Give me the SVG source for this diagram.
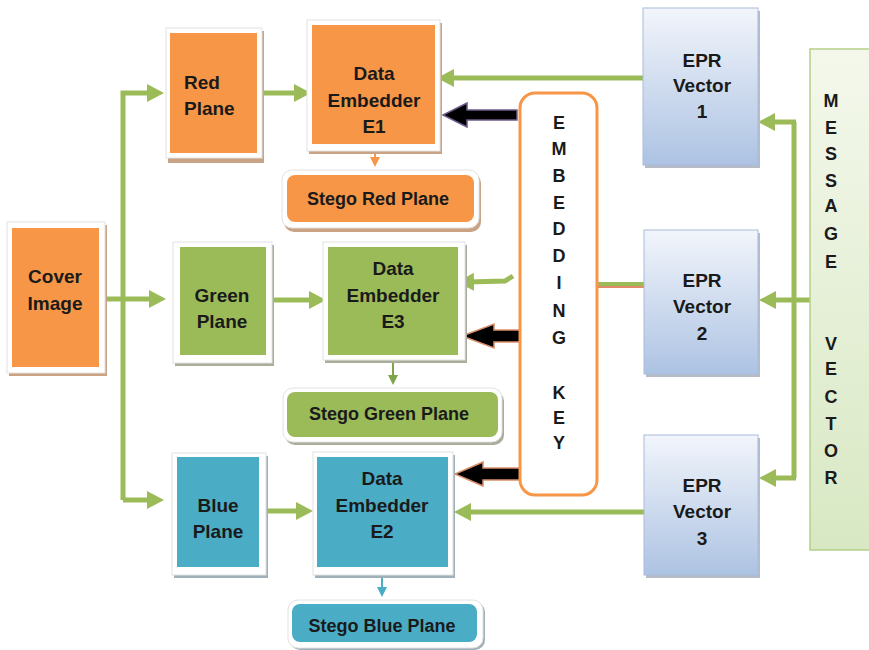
<svg xmlns="http://www.w3.org/2000/svg" width="869" height="650" viewBox="0 0 869 650">
<style>
text{font-family:"Liberation Sans",Arial,sans-serif;font-weight:bold;fill:#1a1a1a;text-anchor:middle;font-size:19px}
.st{font-size:18px}
.lt{font-size:18px}
.frame{fill:#ffffff;stroke:#e2e2e2;stroke-width:1}
.shO{fill:#c9a383}
.shG{fill:#a9ae9a}
.shB{fill:#9fb0b8}
.or{fill:#f79646}
.gr{fill:#9bbb59}
.bl{fill:#4bacc6}
.epr{fill:url(#eprGrad);stroke:#a9bcd9;stroke-width:1}
.conn{fill:none;stroke:#9bbb59;stroke-width:5}
.blk{fill:#000000;stroke-width:1.5}
</style>
<defs>
<linearGradient id="eprGrad" x1="0" y1="0" x2="0" y2="1">
<stop offset="0" stop-color="#f2f5fb"/>
<stop offset="1" stop-color="#adc3e3"/>
</linearGradient>
<linearGradient id="msgGrad" x1="0" y1="0" x2="0" y2="1">
<stop offset="0" stop-color="#f4f8ec"/>
<stop offset="1" stop-color="#d8e8c3"/>
</linearGradient>
<marker id="ga" markerUnits="userSpaceOnUse" markerWidth="17" markerHeight="18" refX="6" refY="9" orient="auto">
<path d="M0,0 L17,9 L0,18 z" fill="#9bbb59"/>
</marker>
<marker id="gs" markerUnits="userSpaceOnUse" markerWidth="10" markerHeight="10" refX="3" refY="5" orient="auto">
<path d="M0,0 L10,5 L0,10 z" fill="#7fa548"/>
</marker>
<marker id="os" markerUnits="userSpaceOnUse" markerWidth="10" markerHeight="10" refX="3" refY="5" orient="auto">
<path d="M0,0 L10,5 L0,10 z" fill="#f79646"/>
</marker>
<marker id="bs" markerUnits="userSpaceOnUse" markerWidth="10" markerHeight="10" refX="3" refY="5" orient="auto">
<path d="M0,0 L10,5 L0,10 z" fill="#4bacc6"/>
</marker>
</defs>
<rect width="869" height="650" fill="#ffffff"/>

<g id="connectors">
<path class="conn" d="M123,500 L123,93 L153,93" marker-end="url(#ga)"/>
<path class="conn" d="M105,299 L155,299" marker-end="url(#ga)"/>
<path class="conn" d="M123,500 L153,500" marker-end="url(#ga)"/>
<path class="conn" d="M263,93 L300,93" marker-end="url(#ga)"/>
<path class="conn" d="M272,300 L315,300" marker-end="url(#ga)"/>
<path class="conn" d="M266,511 L302,511" marker-end="url(#ga)"/>
<path class="conn" d="M643,78 L448,78" marker-end="url(#ga)"/>
<path class="conn" d="M513,276 L505,281 L468,282" marker-end="url(#ga)"/>
<path class="conn" d="M644,512 L465,512" marker-end="url(#ga)"/>
<line x1="597" y1="287" x2="644" y2="287" stroke="#e08a6a" stroke-width="2"/>
<line x1="597" y1="284" x2="644" y2="284" stroke="#9bbb59" stroke-width="4"/>
<path class="conn" d="M810,300 L794,300"/>
<path class="conn" d="M794,122 L794,478"/>
<path class="conn" d="M796,122 L769,122" marker-end="url(#ga)"/>
<path class="conn" d="M796,300 L770,300" marker-end="url(#ga)"/>
<path class="conn" d="M796,478 L770,478" marker-end="url(#ga)"/>
<path d="M375,152 L375,160" stroke="#f79646" stroke-width="2" fill="none" marker-end="url(#os)"/>
<path d="M393,360 L393,378" stroke="#7fa548" stroke-width="2" fill="none" marker-end="url(#gs)"/>
<path d="M382,575 L382,590" stroke="#4bacc6" stroke-width="2" fill="none" marker-end="url(#bs)"/>
<polygon class="blk" stroke="#6e5a8a" points="517,110 467,110 467,103 443,115 467,127 467,120 517,120"/>
<polygon class="blk" stroke="#d9906a" points="525,330 494,330 494,324 462,336 494,348 494,342 525,342"/>
<polygon class="blk" stroke="#d9906a" points="520,468 483,468 483,462 455,474 483,486 483,480 520,480"/>
</g>

<g id="cover-image">
<rect x="9" y="225" width="98" height="151" class="shO"/>
<rect x="7" y="222" width="98" height="151" class="frame"/>
<rect x="12" y="228" width="87" height="139" class="or"/>
<text x="55" y="283">Cover</text>
<text x="55" y="310">Image</text>
</g>

<g id="red-plane">
<rect x="168" y="31" width="96" height="132" class="shO"/>
<rect x="166" y="28" width="96" height="130" class="frame"/>
<rect x="170" y="33" width="87" height="120" class="or"/>
<text x="184" y="89" style="text-anchor:start">Red</text>
<text x="184" y="115" style="text-anchor:start">Plane</text>
</g>

<g id="green-plane">
<rect x="175" y="245" width="99" height="121" class="shG"/>
<rect x="173" y="242" width="99" height="121" class="frame"/>
<rect x="180" y="247" width="86" height="108" class="gr"/>
<text x="222" y="302">Green</text>
<text x="222" y="328">Plane</text>
</g>

<g id="blue-plane">
<rect x="174" y="456" width="94" height="122" class="shB"/>
<rect x="172" y="453" width="94" height="122" class="frame"/>
<rect x="177" y="457" width="82" height="110" class="bl"/>
<text x="218" y="512">Blue</text>
<text x="218" y="538">Plane</text>
</g>

<g id="embedder-e1">
<rect x="309" y="23" width="133" height="131" class="shO"/>
<rect x="307" y="20" width="133" height="131" class="frame"/>
<rect x="312" y="25" width="123" height="119" class="or"/>
<text x="374" y="80">Data</text>
<text x="374" y="107">Embedder</text>
<text x="374" y="133">E1</text>
</g>

<g id="embedder-e3">
<rect x="325" y="245" width="142" height="118" class="shG"/>
<rect x="323" y="242" width="142" height="118" class="frame"/>
<rect x="328" y="247" width="130" height="108" class="gr"/>
<text x="393" y="275">Data</text>
<text x="393" y="302">Embedder</text>
<text x="393" y="328">E3</text>
</g>

<g id="embedder-e2">
<rect x="315" y="455" width="140" height="123" class="shB"/>
<rect x="313" y="452" width="140" height="123" class="frame"/>
<rect x="317" y="457" width="131" height="110" class="bl"/>
<text x="382" y="485">Data</text>
<text x="382" y="512">Embedder</text>
<text x="382" y="538">E2</text>
</g>

<g id="stego-red">
<rect x="284" y="173" width="197" height="59" rx="10" class="shO"/>
<rect x="282" y="170" width="197" height="58" rx="10" class="frame"/>
<rect x="287" y="175" width="187" height="47" rx="8" class="or"/>
<text x="378" y="205" class="st">Stego Red Plane</text>
</g>

<g id="stego-green">
<rect x="285" y="391" width="219" height="54" rx="10" class="shG"/>
<rect x="283" y="388" width="219" height="54" rx="10" class="frame"/>
<rect x="287" y="392" width="211" height="45" rx="8" class="gr"/>
<text x="389" y="420" class="st">Stego Green Plane</text>
</g>

<g id="stego-blue">
<rect x="290" y="602" width="195" height="48" rx="10" class="shB"/>
<rect x="288" y="600" width="195" height="48" rx="10" class="frame"/>
<rect x="292" y="604" width="185" height="38" rx="8" class="bl"/>
<text x="382" y="632" class="st">Stego Blue Plane</text>
</g>

<g id="embedding-key">
<rect x="520" y="93" width="77" height="402" rx="15" fill="#ffffff" stroke="#f79646" stroke-width="3"/>
<text x="559" y="129" class="lt">E</text>
<text x="559" y="155" class="lt">M</text>
<text x="559" y="182" class="lt">B</text>
<text x="559" y="209" class="lt">E</text>
<text x="559" y="235" class="lt">D</text>
<text x="559" y="262" class="lt">D</text>
<text x="559" y="289" class="lt">I</text>
<text x="559" y="317" class="lt">N</text>
<text x="559" y="344" class="lt">G</text>
<text x="559" y="399" class="lt">K</text>
<text x="559" y="424" class="lt">E</text>
<text x="559" y="449" class="lt">Y</text>
</g>

<g id="epr-vector-1">
<rect x="645" y="11" width="115" height="157" fill="#b5bcc8"/>
<rect x="643" y="8" width="115" height="157" class="epr"/>
<text x="702" y="67">EPR</text>
<text x="702" y="92">Vector</text>
<text x="702" y="118">1</text>
</g>

<g id="epr-vector-2">
<rect x="646" y="233" width="114" height="144" fill="#b5bcc8"/>
<rect x="644" y="230" width="114" height="144" class="epr"/>
<text x="702" y="287">EPR</text>
<text x="702" y="313">Vector</text>
<text x="702" y="340">2</text>
</g>

<g id="epr-vector-3">
<rect x="646" y="438" width="114" height="140" fill="#b5bcc8"/>
<rect x="644" y="435" width="114" height="140" class="epr"/>
<text x="702" y="492">EPR</text>
<text x="702" y="518">Vector</text>
<text x="702" y="545">3</text>
</g>

<g id="message-vector">
<rect x="810" y="49" width="70" height="501" fill="url(#msgGrad)" stroke="#b5cf8a" stroke-width="1.5"/>
<text x="831" y="107" class="lt">M</text>
<text x="831" y="134" class="lt">E</text>
<text x="831" y="160" class="lt">S</text>
<text x="831" y="187" class="lt">S</text>
<text x="831" y="212" class="lt">A</text>
<text x="831" y="240" class="lt">G</text>
<text x="831" y="268" class="lt">E</text>
<text x="831" y="350" class="lt">V</text>
<text x="831" y="375" class="lt">E</text>
<text x="831" y="403" class="lt">C</text>
<text x="831" y="430" class="lt">T</text>
<text x="831" y="457" class="lt">O</text>
<text x="831" y="484" class="lt">R</text>
</g>
</svg>
